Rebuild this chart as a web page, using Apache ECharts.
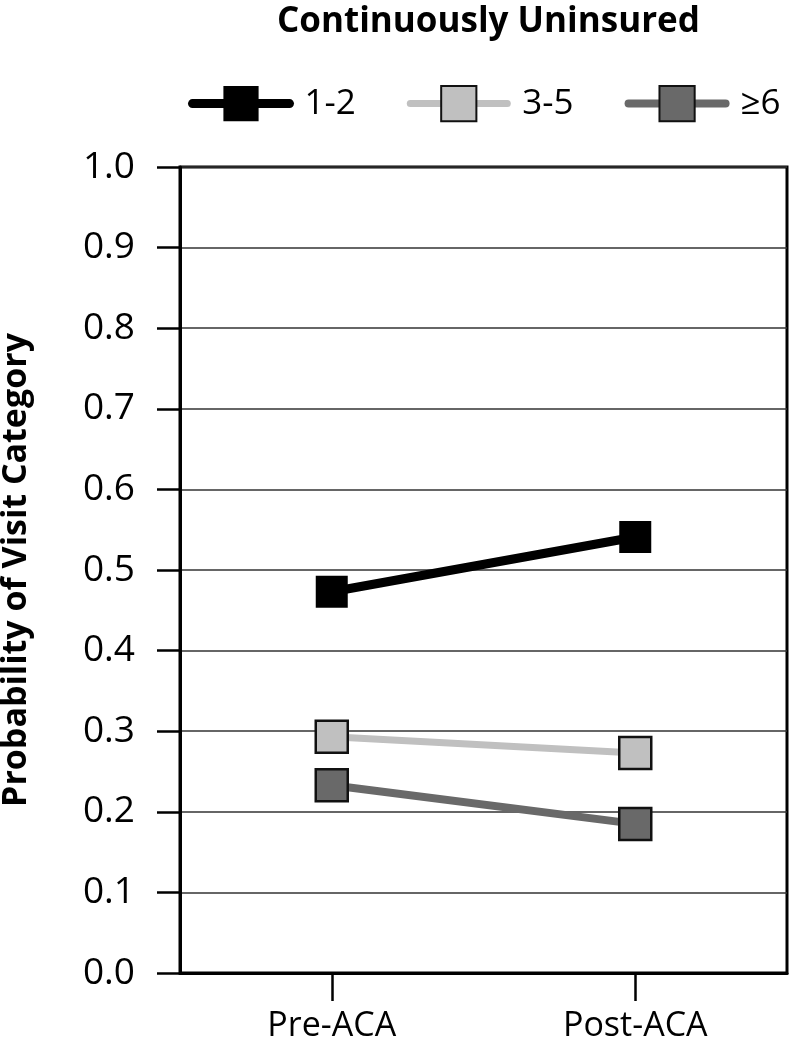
<!DOCTYPE html>
<html>
<head>
<meta charset="utf-8">
<script src="https://cdn.jsdelivr.net/npm/echarts@6/dist/echarts.min.js"></script>
<style>html,body{margin:0;padding:0;background:#fff}#c{width:792px;height:1056px}</style>
</head>
<body>
<div id="c"></div>
<script>
const categories = ['Pre-ACA', 'Post-ACA'];
const seriesNames = ['1-2', '3-5', '\u22656'];
const visits12 = [0.473, 0.541];
const visits35 = [0.293, 0.273];
const visits6plus = [0.233, 0.185];
const yTicks = [0.0, 0.1, 0.2, 0.3, 0.4, 0.5, 0.6, 0.7, 0.8, 0.9, 1.0];

const FONT = '"Open Sans", "Noto Sans", sans-serif';
const chart = echarts.init(document.getElementById('c'), null, {renderer: 'canvas'});

const colors = ['#000000', '#c0c0c0', '#696969'];
const widths = [9, 7, 8];
const borders = [0, 2.5, 2.5];

function mk(i, data) {
  return {
    name: seriesNames[i], type: 'line', data: data,
    symbol: 'rect', symbolSize: 32,
    lineStyle: {color: colors[i], width: widths[i], cap: 'round'},
    itemStyle: {color: colors[i], borderColor: '#111', borderWidth: borders[i]},
    emphasis: {disabled: true},
    z: 3
  };
}

chart.setOption({
  animation: false,
  backgroundColor: '#fff',
  title: {
    text: 'Continuously Uninsured', left: 272, top: 0,
    textStyle: {fontFamily: FONT, fontSize: 35, fontWeight: 'bold', color: '#000'}
  },
  legend: {
    left: 183, top: 80, itemWidth: 97, itemHeight: 44, itemGap: 51,
    data: seriesNames.map((n, i) => ({name: n, lineStyle: {width: widths[i], cap: 'round', color: colors[i]}})),
    textStyle: {fontFamily: FONT, fontSize: 35, color: '#000', padding: [0, 0, 0, 10]}
  },
  grid: {left: 180, right: 5, top: 167, bottom: 83, show: true, borderColor: '#000', borderWidth: 3,
    backgroundColor: 'transparent', outerBoundsMode: 'none', containLabel: false},
  xAxis: {
    type: 'category', data: categories, boundaryGap: true,
    axisLine: {show: true, lineStyle: {color: '#000', width: 3}},
    axisTick: {show: true, alignWithLabel: true, length: 28, lineStyle: {color: '#000', width: 2.5}},
    axisLabel: {fontFamily: FONT, fontSize: 34, color: '#000', margin: 36},
    splitLine: {show: false}
  },
  yAxis: {
    type: 'value', min: 0, max: 1, interval: 0.1,
    name: 'Probability of Visit Category', nameLocation: 'middle', nameGap: 147, nameRotate: 90,
    nameMoveOverlap: false,
    nameTextStyle: {fontFamily: FONT, fontSize: 34, fontWeight: 'bold', color: '#000'},
    axisLine: {show: true, lineStyle: {color: '#000', width: 3}},
    axisTick: {show: true, length: 23, lineStyle: {color: '#000', width: 2.5}},
    axisLabel: {fontFamily: FONT, fontSize: 37, color: '#000', margin: 45,
      formatter: v => { const t = yTicks.find(x => Math.abs(x - v) < 1e-6); return (t === undefined ? v : t).toFixed(1); }},
    splitLine: {show: true, lineStyle: {color: '#333', width: 1.5}}
  },
  series: [
    mk(0, visits12),
    mk(1, visits35),
    mk(2, visits6plus)
  ]
});
</script>
</body>
</html>
